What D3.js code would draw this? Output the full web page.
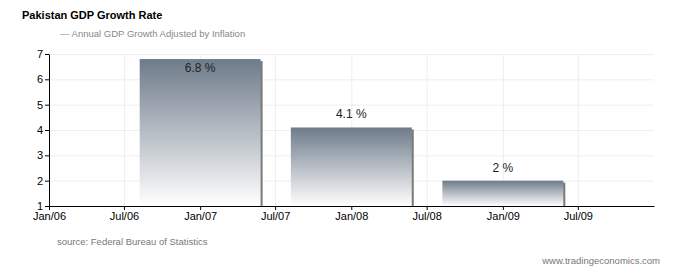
<!DOCTYPE html>
<html lang="en">
<head>
    <meta charset="UTF-8">
    <title>Pakistan GDP Growth Rate</title>
    <script src="https://cdnjs.cloudflare.com/ajax/libs/d3/7.8.5/d3.min.js"></script>
    <style>
        body { margin: 0; background: #fff; font-family: "Liberation Sans", Arial, sans-serif; }
        .grid line { stroke: #eeeeee; }
        .grid .domain { display: none; }
        .axis text { font-size: 11px; fill: #000; }
        .axis line, .axis path { stroke: #000; }
    </style>
</head>
<body>
<div id="chart"></div>
<script>
    // Fiscal years, plotted at Jan 1 of the year the fiscal year ends
    const periods = ["2007-01-01", "2008-01-01", "2009-01-01"];
    const growth = [6.8, 4.1, 2.0];
    const yTicks = [1, 2, 3, 4, 5, 6, 7];
    const xTickLabels = ["Jan/06", "Jul/06", "Jan/07", "Jul/07", "Jan/08", "Jul/08", "Jan/09", "Jul/09"];

    const width = 675, height = 275;
    const margin = { left: 49, right: 21, top: 54, bottom: 69 };
    const parse = d3.timeParse("%Y-%m-%d");
    const data = periods.map((p, i) => ({ date: parse(p), value: growth[i] }));

    const svg = d3.select("#chart").append("svg")
        .attr("width", width)
        .attr("height", height);

    const x = d3.scaleTime()
        .domain([new Date(2006, 0, 1), new Date(2010, 0, 1)])
        .range([margin.left, width - margin.right]);
    const y = d3.scaleLinear()
        .domain([1, 7])
        .range([height - margin.bottom, margin.top]);

    const xTicks = d3.timeMonth.every(6).range(new Date(2006, 0, 1), new Date(2010, 0, 1));

    // gradient for bars
    const defs = svg.append("defs");
    const grad = defs.append("linearGradient")
        .attr("id", "barGrad")
        .attr("x1", 0).attr("y1", 0).attr("x2", 0).attr("y2", 1);
    grad.append("stop").attr("offset", "0%").attr("stop-color", "#6e7b8a");
    grad.append("stop").attr("offset", "100%").attr("stop-color", "#ffffff");

    // gridlines
    svg.append("g")
        .attr("class", "grid")
        .attr("transform", `translate(${margin.left},0)`)
        .call(d3.axisLeft(y).tickValues(yTicks).tickSize(-(width - margin.left - margin.right)).tickFormat(""));
    svg.append("g")
        .attr("class", "grid")
        .attr("transform", `translate(0,${margin.top})`)
        .call(d3.axisBottom(x).tickValues(xTicks).tickSize(height - margin.top - margin.bottom).tickFormat(""));

    // bars (80% of a year wide, centred on the date)
    const yearPx = x(new Date(2008, 0, 1)) - x(new Date(2007, 0, 1));
    const barW = yearPx * 0.8;

    svg.append("g")
        .selectAll("rect.shadow")
        .data(data)
        .enter()
        .append("rect")
        .attr("class", "shadow")
        .attr("x", d => x(d.date) - barW / 2 + 2)
        .attr("y", d => y(d.value) + 2)
        .attr("width", barW)
        .attr("height", d => y(1) - y(d.value) - 2)
        .attr("fill", "#7a7a7a");

    svg.append("g")
        .selectAll("rect.bar")
        .data(data)
        .enter()
        .append("rect")
        .attr("class", "bar")
        .attr("x", d => x(d.date) - barW / 2)
        .attr("y", d => y(d.value))
        .attr("width", barW)
        .attr("height", d => y(1) - y(d.value))
        .attr("fill", "url(#barGrad)");

    // value labels
    svg.append("g")
        .selectAll("text")
        .data(data)
        .enter()
        .append("text")
        .attr("x", d => x(d.date))
        .attr("y", d => y(d.value) - 9 < margin.top ? y(d.value) + 13 : y(d.value) - 9)
        .attr("text-anchor", "middle")
        .attr("font-size", 12)
        .attr("fill", "#222")
        .text(d => `${d3.format(".2~f")(d.value)} %`);

    // axes
    svg.append("g")
        .attr("class", "axis")
        .attr("transform", `translate(${margin.left},0)`)
        .call(d3.axisLeft(y).tickValues(yTicks).tickSize(4).tickPadding(2).tickSizeOuter(0)
            .tickFormat(d3.format("d")));
    svg.append("g")
        .attr("class", "axis")
        .attr("transform", `translate(0,${height - margin.bottom})`)
        .call(d3.axisBottom(x).tickValues(xTicks).tickSize(4).tickPadding(2).tickSizeOuter(0)
            .tickFormat((d, i) => xTickLabels[i]));

    // titles and notes
    svg.append("text")
        .attr("x", 22).attr("y", 19)
        .attr("font-size", 11).attr("font-weight", "bold")
        .text("Pakistan GDP Growth Rate");
    svg.append("text")
        .attr("x", 60).attr("y", 37)
        .attr("font-size", 9.5).attr("fill", "#888")
        .text("—  Annual GDP Growth Adjusted by Inflation");
    svg.append("text")
        .attr("x", 57).attr("y", 245)
        .attr("font-size", 9.5).attr("fill", "#777")
        .text("source: Federal Bureau of Statistics");
    svg.append("text")
        .attr("x", 660).attr("y", 264)
        .attr("text-anchor", "end")
        .attr("font-size", 9.5).attr("fill", "#777")
        .text("www.tradingeconomics.com");
</script>
</body>
</html>
